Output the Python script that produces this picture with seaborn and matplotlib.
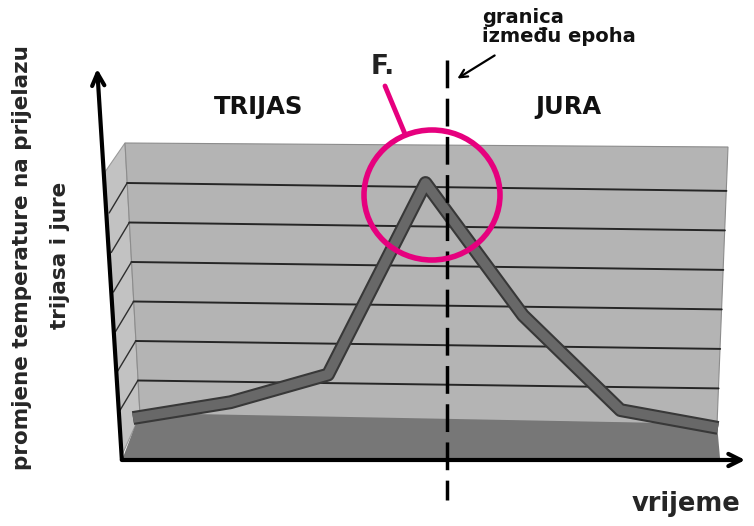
import numpy as np
import pandas as pd
import matplotlib.pyplot as plt
import matplotlib.patheffects as pe
from matplotlib.patches import Polygon, Ellipse
import seaborn as sns

# podaci
vrijeme = [0, 1, 2, 3, 4, 5, 6]
temperatura = [0.05, 0.45, 1.15, 6.0, 2.65, 0.25, -0.2]
razine = [1, 2, 3, 4, 5, 6]
granica_x = 3.22

sns.set_style("white")
plt.rcParams['font.family'] = ['DejaVu Sans']

W, H = 754, 526
fig = plt.figure(figsize=(W / 100, H / 100), dpi=100)
# axes covers px x 95..750, y 55..505
ax = fig.add_axes([95 / W, 1 - 505 / H, 655 / W, 450 / H])
X0, SX, Y0, SY = 133, 97.5, 420, 39.5
ax.set_xlim((95 - X0) / SX, (750 - X0) / SX)
ax.set_ylim((Y0 - 505) / SY, (Y0 - 55) / SY)
ax.axis("off")


def P(px, py):
    return ((px - X0) / SX, (Y0 - py) / SY)


# stražnji zid, bočna strana, pod
ax.add_patch(Polygon([P(105, 172), P(125, 143), P(140, 415), P(122, 455)],
                     closed=True, fc="#c2c2c2", ec="#9a9a9a", lw=0.8, zorder=1))
ax.add_patch(Polygon([P(125, 143), P(728, 147), P(717, 425), P(140, 415)],
                     closed=True, fc="#b4b4b4", ec="#8c8c8c", lw=0.8, zorder=1))
ax.add_patch(Polygon([P(140, 413), P(717, 424), P(720, 458), P(122, 460)],
                     closed=True, fc="#777777", ec="none", zorder=2))

# mreža
for r in razine:
    yl = r
    yr = r - 0.2
    xl = (140 - X0) / SX - (140 - 125) / SX * (r / 7)
    xr = (717 - X0) / SX + (728 - 717) / SX * (r / 7)
    ax.plot([xl, xr], [yl, yr], color="#262626", lw=1.4, zorder=2)
    ax.plot([xl, xl - 18 / SX], [yl, yl - 30 / SY], color="#2e2e2e", lw=1.0, zorder=2)

# linija temperature
df = pd.DataFrame({"vrijeme": vrijeme, "temperatura": temperatura})
sns.lineplot(data=df, x="vrijeme", y="temperatura", ax=ax, color="#686868",
             lw=7, zorder=4, solid_capstyle="butt",
             path_effects=[pe.Stroke(linewidth=10, foreground="#383838"), pe.Normal()])
ax.axis("off")

# granica između epoha
ax.plot([granica_x, granica_x], [P(0, 60)[1], P(0, 500)[1]], color="black",
        lw=2.5, dashes=(8, 3), zorder=5, clip_on=False)

# krug i oznaka F.
ax.add_patch(Ellipse(P(432, 195), 136 / SX, 130 / SY, fill=False,
                     ec="#e6007e", lw=4, zorder=6))
ax.plot(*zip(P(405, 134), P(385, 86)), color="#e6007e", lw=3.5, zorder=6)

# osi
ax.annotate("", xy=P(97, 66), xytext=P(122, 462),
            arrowprops=dict(arrowstyle="->", lw=3, color="black",
                            mutation_scale=22), annotation_clip=False)
ax.annotate("", xy=P(748, 460), xytext=P(119, 460),
            arrowprops=dict(arrowstyle="->", lw=3, color="black",
                            mutation_scale=22), annotation_clip=False)
ax.annotate("", xy=P(455, 80), xytext=P(497, 54),
            arrowprops=dict(arrowstyle="->", lw=1.6, color="black",
                            mutation_scale=14), annotation_clip=False)

# tekstovi
fig.text(259 / W, 1 - 107 / H, "TRIJAS", ha="center", va="center",
         fontsize=17.5, fontweight="bold", color="#111111")
fig.text(568 / W, 1 - 107 / H, "JURA", ha="center", va="center",
         fontsize=17.5, fontweight="bold", color="#111111")
fig.text(383 / W, 1 - 67 / H, "F.", ha="center", va="center",
         fontsize=19, fontweight="bold", color="#222222")
fig.text(482 / W, 1 - 27 / H, "granica\nizmeđu epoha", ha="left", va="center",
         fontsize=14, color="#111111", linespacing=1.05, fontweight="semibold")
fig.text(22 / W, 1 - 258 / H, "promjene temperature na prijelazu", rotation=90,
         ha="center", va="center", fontsize=15.5, fontweight="bold")
fig.text(60 / W, 1 - 255 / H, "trijasa i jure", rotation=90,
         ha="center", va="center", fontsize=15.5, fontweight="bold")
fig.text(686 / W, 1 - 504 / H, "vrijeme", ha="center", va="center",
         fontsize=18.5, fontweight="bold")

fig.savefig("out.png", dpi=100)
